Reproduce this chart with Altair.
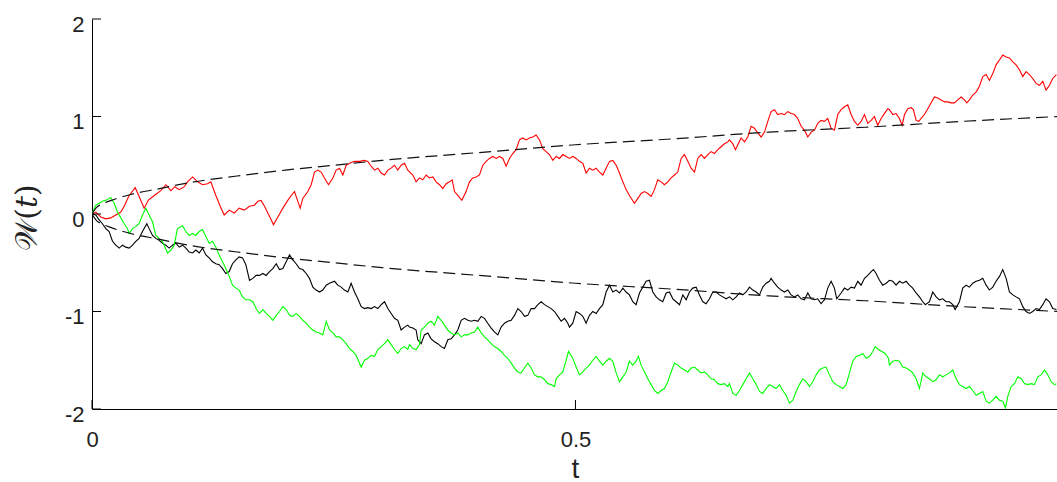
import altair as alt
import pandas as pd

# Three sample paths of a Wiener process W(t) on [0, 1], as (t, W) pairs
RED_PATH = [
    (0.0, 0.0), (0.0039, 0.02), (0.0091, -0.03), (0.0143, -0.05), (0.0194, -0.04), (0.0246, -0.01),
    (0.0298, 0.02), (0.0333, 0.08), (0.0384, 0.19), (0.0447, 0.27), (0.0487, 0.18), (0.0540, 0.06),
    (0.0581, 0.14), (0.0643, 0.19), (0.0712, 0.24), (0.0764, 0.30), (0.0816, 0.24), (0.0857, 0.28),
    (0.0902, 0.25), (0.0954, 0.28), (0.0988, 0.33), (0.1040, 0.38), (0.1092, 0.33), (0.1143, 0.30),
    (0.1195, 0.31), (0.1229, 0.33), (0.1281, 0.19), (0.1326, 0.08), (0.1367, -0.01), (0.1419, 0.04),
    (0.1471, 0.01), (0.1522, 0.06), (0.1574, 0.04), (0.1629, 0.08), (0.1680, 0.09), (0.1715, 0.13),
    (0.1749, 0.14), (0.1784, 0.08), (0.1818, 0.01), (0.1853, -0.06), (0.1877, -0.11), (0.1922, -0.03),
    (0.1974, 0.06), (0.2025, 0.14), (0.2060, 0.19), (0.2094, 0.23), (0.2129, 0.13), (0.2153, 0.06),
    (0.2180, 0.16), (0.2232, 0.23), (0.2267, 0.30), (0.2301, 0.43), (0.2335, 0.45), (0.2370, 0.43),
    (0.2404, 0.37), (0.2446, 0.30), (0.2491, 0.37), (0.2525, 0.45), (0.2560, 0.47), (0.2594, 0.40),
    (0.2629, 0.50), (0.2663, 0.52), (0.2715, 0.54), (0.2767, 0.54), (0.2818, 0.55), (0.2853, 0.54),
    (0.2887, 0.49), (0.2922, 0.45), (0.2956, 0.47), (0.2991, 0.42), (0.3025, 0.40), (0.3060, 0.45),
    (0.3094, 0.47), (0.3128, 0.50), (0.3163, 0.45), (0.3197, 0.50), (0.3232, 0.52), (0.3266, 0.45),
    (0.3318, 0.40), (0.3352, 0.33), (0.3387, 0.37), (0.3421, 0.35), (0.3456, 0.40), (0.3490, 0.37),
    (0.3525, 0.38), (0.3559, 0.33), (0.3594, 0.30), (0.3628, 0.26), (0.3663, 0.31), (0.3697, 0.33),
    (0.3725, 0.35), (0.3749, 0.23), (0.3783, 0.19), (0.3825, 0.14), (0.3869, 0.23), (0.3904, 0.33),
    (0.3938, 0.37), (0.3973, 0.38), (0.4007, 0.40), (0.4042, 0.50), (0.4076, 0.54), (0.4111, 0.57),
    (0.4145, 0.59), (0.4180, 0.57), (0.4214, 0.59), (0.4249, 0.57), (0.4283, 0.49), (0.4318, 0.57),
    (0.4352, 0.62), (0.4386, 0.66), (0.4421, 0.76), (0.4455, 0.78), (0.4490, 0.76), (0.4524, 0.78),
    (0.4559, 0.79), (0.4593, 0.81), (0.4628, 0.76), (0.4662, 0.67), (0.4697, 0.64), (0.4731, 0.61),
    (0.4766, 0.55), (0.4800, 0.59), (0.4835, 0.57), (0.4869, 0.61), (0.4904, 0.59), (0.4938, 0.57),
    (0.4972, 0.59), (0.5007, 0.57), (0.5041, 0.54), (0.5076, 0.52), (0.5110, 0.42), (0.5145, 0.47),
    (0.5179, 0.45), (0.5214, 0.47), (0.5248, 0.43), (0.5283, 0.40), (0.5317, 0.47), (0.5352, 0.54),
    (0.5386, 0.55), (0.5421, 0.50), (0.5455, 0.42), (0.5490, 0.33), (0.5524, 0.25), (0.5558, 0.19),
    (0.5610, 0.11), (0.5645, 0.16), (0.5679, 0.21), (0.5714, 0.23), (0.5748, 0.21), (0.5783, 0.18),
    (0.5817, 0.25), (0.5851, 0.35), (0.5886, 0.33), (0.5920, 0.30), (0.5955, 0.33), (0.5989, 0.37),
    (0.6024, 0.40), (0.6058, 0.43), (0.6093, 0.57), (0.6127, 0.61), (0.6162, 0.54), (0.6196, 0.47),
    (0.6231, 0.43), (0.6265, 0.57), (0.6300, 0.61), (0.6334, 0.57), (0.6368, 0.61), (0.6403, 0.64),
    (0.6437, 0.62), (0.6472, 0.66), (0.6506, 0.69), (0.6541, 0.72), (0.6575, 0.74), (0.6593, 0.76),
    (0.6627, 0.72), (0.6655, 0.66), (0.6679, 0.71), (0.6713, 0.78), (0.6748, 0.74), (0.6782, 0.79),
    (0.6817, 0.90), (0.6851, 0.88), (0.6886, 0.83), (0.6920, 0.79), (0.6955, 0.84), (0.6989, 0.95),
    (0.7023, 1.05), (0.7058, 1.07), (0.7092, 1.02), (0.7127, 1.03), (0.7161, 1.02), (0.7196, 1.05),
    (0.7230, 1.03), (0.7265, 1.02), (0.7299, 0.98), (0.7334, 0.90), (0.7368, 0.86), (0.7403, 0.79),
    (0.7437, 0.84), (0.7472, 0.86), (0.7506, 0.93), (0.7540, 0.96), (0.7575, 0.95), (0.7609, 0.98),
    (0.7644, 0.88), (0.7678, 0.86), (0.7713, 1.02), (0.7747, 1.07), (0.7782, 1.10), (0.7816, 1.12),
    (0.7851, 1.02), (0.7885, 0.95), (0.7920, 0.91), (0.7954, 0.95), (0.7989, 1.02), (0.8023, 0.93),
    (0.8058, 0.96), (0.8092, 1.00), (0.8126, 0.91), (0.8161, 0.98), (0.8195, 1.03), (0.8230, 1.08),
    (0.8247, 1.07), (0.8282, 1.02), (0.8316, 1.03), (0.8351, 0.98), (0.8378, 0.91), (0.8403, 1.02),
    (0.8437, 1.08), (0.8471, 1.09), (0.8495, 1.07), (0.8523, 0.96), (0.8551, 0.95), (0.8575, 0.98),
    (0.8609, 1.02), (0.8644, 1.08), (0.8678, 1.14), (0.8713, 1.20), (0.8747, 1.19), (0.8782, 1.17),
    (0.8816, 1.15), (0.8850, 1.15), (0.8885, 1.14), (0.8919, 1.14), (0.8954, 1.17), (0.8988, 1.20),
    (0.9023, 1.17), (0.9047, 1.14), (0.9074, 1.17), (0.9109, 1.22), (0.9143, 1.25), (0.9178, 1.31),
    (0.9212, 1.41), (0.9247, 1.43), (0.9281, 1.37), (0.9316, 1.44), (0.9350, 1.53), (0.9385, 1.58),
    (0.9419, 1.63), (0.9454, 1.61), (0.9488, 1.60), (0.9523, 1.56), (0.9557, 1.53), (0.9592, 1.48),
    (0.9626, 1.41), (0.9660, 1.46), (0.9695, 1.43), (0.9729, 1.39), (0.9764, 1.34), (0.9798, 1.32),
    (0.9833, 1.36), (0.9867, 1.27), (0.9902, 1.32), (0.9936, 1.39), (0.9974, 1.43),
]

BLACK_PATH = [
    (0.0, 0.0), (0.0039, -0.01), (0.0074, -0.06), (0.0108, -0.10), (0.0143, -0.15), (0.0177, -0.18),
    (0.0212, -0.28), (0.0246, -0.32), (0.0281, -0.35), (0.0315, -0.32), (0.0350, -0.34), (0.0384, -0.35),
    (0.0419, -0.32), (0.0453, -0.28), (0.0487, -0.25), (0.0522, -0.18), (0.0567, -0.10), (0.0591, -0.15),
    (0.0626, -0.22), (0.0660, -0.25), (0.0695, -0.27), (0.0729, -0.30), (0.0764, -0.32), (0.0798, -0.35),
    (0.0833, -0.32), (0.0867, -0.30), (0.0902, -0.34), (0.0936, -0.32), (0.0971, -0.35), (0.1005, -0.39),
    (0.1040, -0.40), (0.1074, -0.37), (0.1109, -0.40), (0.1143, -0.35), (0.1178, -0.42), (0.1212, -0.45),
    (0.1247, -0.49), (0.1281, -0.51), (0.1315, -0.52), (0.1350, -0.56), (0.1384, -0.61), (0.1419, -0.59),
    (0.1453, -0.51), (0.1488, -0.47), (0.1522, -0.44), (0.1557, -0.45), (0.1591, -0.52), (0.1629, -0.68),
    (0.1663, -0.66), (0.1698, -0.63), (0.1732, -0.63), (0.1767, -0.61), (0.1801, -0.63), (0.1836, -0.59),
    (0.1870, -0.56), (0.1905, -0.51), (0.1939, -0.57), (0.1974, -0.56), (0.2008, -0.49), (0.2043, -0.42),
    (0.2077, -0.47), (0.2111, -0.51), (0.2146, -0.56), (0.2180, -0.57), (0.2215, -0.61), (0.2249, -0.66),
    (0.2284, -0.75), (0.2318, -0.78), (0.2353, -0.80), (0.2387, -0.78), (0.2422, -0.73), (0.2456, -0.71),
    (0.2508, -0.69), (0.2542, -0.73), (0.2577, -0.75), (0.2611, -0.78), (0.2646, -0.80), (0.2680, -0.71),
    (0.2715, -0.80), (0.2749, -0.87), (0.2784, -0.95), (0.2818, -0.97), (0.2853, -0.96), (0.2887, -0.97),
    (0.2922, -0.95), (0.2956, -0.97), (0.2991, -0.93), (0.3025, -0.90), (0.3060, -0.97), (0.3094, -1.02),
    (0.3128, -1.07), (0.3163, -1.09), (0.3197, -1.19), (0.3232, -1.16), (0.3266, -1.14), (0.3283, -1.16),
    (0.3318, -1.17), (0.3352, -1.19), (0.3369, -1.29), (0.3404, -1.33), (0.3438, -1.24), (0.3473, -1.22),
    (0.3507, -1.28), (0.3542, -1.31), (0.3576, -1.33), (0.3611, -1.36), (0.3645, -1.38), (0.3680, -1.29),
    (0.3714, -1.28), (0.3749, -1.24), (0.3783, -1.19), (0.3818, -1.09), (0.3852, -1.07), (0.3887, -1.09),
    (0.3921, -1.10), (0.3956, -1.09), (0.3990, -1.10), (0.4025, -1.05), (0.4059, -1.07), (0.4093, -1.12),
    (0.4128, -1.17), (0.4162, -1.21), (0.4197, -1.24), (0.4231, -1.16), (0.4266, -1.12), (0.4300, -1.10),
    (0.4335, -1.09), (0.4369, -1.04), (0.4404, -0.97), (0.4438, -1.00), (0.4473, -1.05), (0.4507, -1.04),
    (0.4542, -0.97), (0.4576, -0.97), (0.4611, -0.93), (0.4645, -0.90), (0.4680, -0.93), (0.4714, -0.95),
    (0.4749, -0.97), (0.4783, -1.00), (0.4818, -1.05), (0.4852, -1.10), (0.4887, -1.07), (0.4921, -1.12),
    (0.4938, -1.16), (0.4972, -1.12), (0.5007, -1.00), (0.5041, -1.02), (0.5076, -1.05), (0.5110, -1.12),
    (0.5145, -1.04), (0.5179, -1.00), (0.5214, -1.02), (0.5248, -0.97), (0.5283, -0.93), (0.5317, -0.80),
    (0.5352, -0.73), (0.5386, -0.80), (0.5421, -0.78), (0.5455, -0.81), (0.5490, -0.76), (0.5524, -0.80),
    (0.5558, -0.83), (0.5593, -0.90), (0.5627, -0.93), (0.5662, -0.81), (0.5696, -0.75), (0.5731, -0.69),
    (0.5765, -0.68), (0.5800, -0.80), (0.5834, -0.85), (0.5869, -0.88), (0.5903, -0.90), (0.5938, -0.81),
    (0.5972, -0.80), (0.6007, -0.87), (0.6041, -0.90), (0.6076, -0.93), (0.6110, -0.83), (0.6145, -0.88),
    (0.6179, -0.80), (0.6213, -0.76), (0.6248, -0.75), (0.6282, -0.83), (0.6317, -0.90), (0.6351, -0.92),
    (0.6386, -0.87), (0.6420, -0.80), (0.6455, -0.80), (0.6489, -0.83), (0.6524, -0.85), (0.6558, -0.87),
    (0.6593, -0.85), (0.6627, -0.88), (0.6662, -0.85), (0.6696, -0.81), (0.6731, -0.83), (0.6765, -0.80),
    (0.6800, -0.75), (0.6834, -0.78), (0.6869, -0.80), (0.6903, -0.83), (0.6937, -0.75), (0.6972, -0.71),
    (0.7006, -0.69), (0.7023, -0.66), (0.7058, -0.71), (0.7092, -0.75), (0.7127, -0.78), (0.7161, -0.80),
    (0.7196, -0.78), (0.7230, -0.83), (0.7265, -0.85), (0.7299, -0.83), (0.7334, -0.87), (0.7368, -0.88),
    (0.7403, -0.81), (0.7437, -0.87), (0.7472, -0.88), (0.7506, -0.87), (0.7540, -0.92), (0.7575, -0.88),
    (0.7609, -0.76), (0.7644, -0.69), (0.7678, -0.76), (0.7702, -0.87), (0.7747, -0.81), (0.7782, -0.76),
    (0.7816, -0.78), (0.7851, -0.75), (0.7885, -0.76), (0.7920, -0.69), (0.7954, -0.73), (0.7989, -0.66),
    (0.8023, -0.63), (0.8058, -0.59), (0.8082, -0.57), (0.8109, -0.61), (0.8144, -0.68), (0.8178, -0.73),
    (0.8213, -0.71), (0.8247, -0.68), (0.8282, -0.69), (0.8316, -0.73), (0.8351, -0.69), (0.8385, -0.71),
    (0.8420, -0.69), (0.8454, -0.73), (0.8488, -0.76), (0.8523, -0.81), (0.8557, -0.85), (0.8592, -0.90),
    (0.8619, -0.93), (0.8661, -0.90), (0.8695, -0.80), (0.8730, -0.85), (0.8764, -0.88), (0.8799, -0.87),
    (0.8833, -0.90), (0.8868, -0.90), (0.8902, -0.93), (0.8926, -0.98), (0.8971, -0.90), (0.9005, -0.76),
    (0.9040, -0.73), (0.9074, -0.75), (0.9109, -0.71), (0.9143, -0.69), (0.9178, -0.68), (0.9212, -0.66),
    (0.9247, -0.73), (0.9281, -0.78), (0.9316, -0.75), (0.9350, -0.69), (0.9385, -0.64), (0.9419, -0.57),
    (0.9454, -0.66), (0.9488, -0.80), (0.9523, -0.83), (0.9557, -0.85), (0.9592, -0.87), (0.9626, -0.95),
    (0.9660, -1.00), (0.9695, -1.02), (0.9729, -1.00), (0.9764, -0.97), (0.9798, -0.98), (0.9833, -0.93),
    (0.9867, -0.87), (0.9902, -0.90), (0.9936, -0.97), (0.9974, -0.98),
]

GREEN_PATH = [
    (0.0, 0.0), (0.0039, 0.09), (0.0074, 0.11), (0.0108, 0.13), (0.0143, 0.14), (0.0194, 0.17),
    (0.0229, 0.11), (0.0263, 0.02), (0.0298, -0.04), (0.0333, -0.10), (0.0367, -0.15), (0.0384, -0.20),
    (0.0419, -0.15), (0.0453, -0.13), (0.0487, -0.10), (0.0522, -0.01), (0.0557, 0.06), (0.0591, -0.01),
    (0.0626, -0.08), (0.0660, -0.22), (0.0695, -0.25), (0.0729, -0.28), (0.0781, -0.40), (0.0816, -0.37),
    (0.0850, -0.32), (0.0884, -0.15), (0.0936, -0.12), (0.0971, -0.18), (0.1005, -0.22), (0.1040, -0.20),
    (0.1074, -0.22), (0.1109, -0.18), (0.1143, -0.16), (0.1178, -0.23), (0.1212, -0.30), (0.1247, -0.28),
    (0.1281, -0.34), (0.1315, -0.42), (0.1350, -0.49), (0.1384, -0.56), (0.1419, -0.64), (0.1453, -0.73),
    (0.1488, -0.76), (0.1522, -0.78), (0.1557, -0.85), (0.1591, -0.88), (0.1629, -0.88), (0.1663, -0.90),
    (0.1698, -0.97), (0.1732, -1.02), (0.1767, -0.98), (0.1801, -1.02), (0.1836, -1.05), (0.1870, -1.09),
    (0.1905, -1.04), (0.1939, -1.00), (0.1974, -0.95), (0.2008, -0.98), (0.2043, -1.04), (0.2077, -1.05),
    (0.2111, -1.02), (0.2146, -1.05), (0.2180, -1.09), (0.2215, -1.12), (0.2249, -1.16), (0.2284, -1.19),
    (0.2318, -1.21), (0.2353, -1.22), (0.2387, -1.24), (0.2422, -1.10), (0.2456, -1.19), (0.2491, -1.22),
    (0.2525, -1.26), (0.2560, -1.26), (0.2594, -1.29), (0.2629, -1.33), (0.2663, -1.38), (0.2698, -1.41),
    (0.2732, -1.45), (0.2767, -1.53), (0.2784, -1.57), (0.2818, -1.50), (0.2853, -1.48), (0.2887, -1.45),
    (0.2922, -1.46), (0.2956, -1.39), (0.2991, -1.36), (0.3025, -1.33), (0.3060, -1.29), (0.3094, -1.34),
    (0.3128, -1.39), (0.3163, -1.43), (0.3197, -1.38), (0.3232, -1.36), (0.3266, -1.39), (0.3283, -1.34),
    (0.3318, -1.38), (0.3352, -1.39), (0.3387, -1.34), (0.3404, -1.19), (0.3438, -1.16), (0.3473, -1.12),
    (0.3507, -1.10), (0.3542, -1.14), (0.3576, -1.05), (0.3611, -1.09), (0.3645, -1.14), (0.3680, -1.19),
    (0.3714, -1.22), (0.3749, -1.24), (0.3783, -1.22), (0.3818, -1.26), (0.3852, -1.24), (0.3887, -1.24),
    (0.3921, -1.22), (0.3956, -1.21), (0.3990, -1.16), (0.4025, -1.22), (0.4059, -1.26), (0.4093, -1.29),
    (0.4128, -1.33), (0.4162, -1.36), (0.4197, -1.38), (0.4231, -1.41), (0.4266, -1.45), (0.4300, -1.48),
    (0.4335, -1.53), (0.4369, -1.58), (0.4404, -1.62), (0.4438, -1.63), (0.4473, -1.58), (0.4507, -1.53),
    (0.4542, -1.58), (0.4576, -1.65), (0.4611, -1.67), (0.4645, -1.67), (0.4680, -1.70), (0.4714, -1.74),
    (0.4749, -1.75), (0.4783, -1.77), (0.4800, -1.69), (0.4835, -1.65), (0.4869, -1.62), (0.4904, -1.50),
    (0.4928, -1.41), (0.4972, -1.48), (0.5007, -1.57), (0.5041, -1.65), (0.5076, -1.62), (0.5110, -1.58),
    (0.5145, -1.55), (0.5179, -1.50), (0.5214, -1.46), (0.5248, -1.51), (0.5283, -1.55), (0.5317, -1.51),
    (0.5352, -1.48), (0.5386, -1.51), (0.5421, -1.63), (0.5455, -1.72), (0.5490, -1.67), (0.5524, -1.62),
    (0.5558, -1.51), (0.5593, -1.55), (0.5627, -1.51), (0.5651, -1.46), (0.5679, -1.55), (0.5714, -1.62),
    (0.5748, -1.69), (0.5783, -1.75), (0.5817, -1.81), (0.5851, -1.84), (0.5886, -1.81), (0.5920, -1.79),
    (0.5955, -1.72), (0.5989, -1.62), (0.6024, -1.53), (0.6058, -1.55), (0.6093, -1.58), (0.6127, -1.60),
    (0.6162, -1.62), (0.6196, -1.58), (0.6231, -1.57), (0.6265, -1.60), (0.6300, -1.63), (0.6334, -1.62),
    (0.6368, -1.65), (0.6403, -1.69), (0.6437, -1.70), (0.6472, -1.74), (0.6506, -1.75), (0.6541, -1.74),
    (0.6575, -1.77), (0.6593, -1.74), (0.6627, -1.84), (0.6662, -1.86), (0.6696, -1.81), (0.6731, -1.75),
    (0.6765, -1.69), (0.6800, -1.63), (0.6834, -1.69), (0.6869, -1.75), (0.6903, -1.82), (0.6937, -1.84),
    (0.6972, -1.79), (0.7006, -1.75), (0.7041, -1.77), (0.7075, -1.79), (0.7110, -1.75), (0.7144, -1.81),
    (0.7179, -1.86), (0.7213, -1.94), (0.7248, -1.91), (0.7282, -1.82), (0.7316, -1.75), (0.7351, -1.69),
    (0.7385, -1.72), (0.7420, -1.77), (0.7454, -1.72), (0.7489, -1.65), (0.7523, -1.60), (0.7558, -1.58),
    (0.7592, -1.57), (0.7627, -1.65), (0.7661, -1.72), (0.7696, -1.75), (0.7730, -1.77), (0.7765, -1.79),
    (0.7799, -1.75), (0.7834, -1.63), (0.7868, -1.51), (0.7903, -1.46), (0.7937, -1.45), (0.7972, -1.43),
    (0.8006, -1.48), (0.8041, -1.46), (0.8075, -1.41), (0.8099, -1.36), (0.8134, -1.39), (0.8168, -1.41),
    (0.8203, -1.43), (0.8237, -1.48), (0.8247, -1.55), (0.8282, -1.51), (0.8316, -1.50), (0.8351, -1.51),
    (0.8385, -1.57), (0.8420, -1.58), (0.8454, -1.60), (0.8488, -1.63), (0.8523, -1.69), (0.8557, -1.79),
    (0.8592, -1.63), (0.8626, -1.67), (0.8661, -1.69), (0.8695, -1.72), (0.8730, -1.70), (0.8764, -1.65),
    (0.8799, -1.67), (0.8833, -1.65), (0.8868, -1.63), (0.8902, -1.60), (0.8937, -1.69), (0.8971, -1.75),
    (0.9005, -1.77), (0.9040, -1.79), (0.9074, -1.77), (0.9109, -1.81), (0.9143, -1.86), (0.9178, -1.84),
    (0.9212, -1.82), (0.9247, -1.92), (0.9281, -1.94), (0.9316, -1.91), (0.9350, -1.87), (0.9385, -1.91),
    (0.9419, -1.92), (0.9447, -1.99), (0.9471, -1.87), (0.9506, -1.77), (0.9540, -1.74), (0.9575, -1.67),
    (0.9609, -1.69), (0.9643, -1.74), (0.9678, -1.75), (0.9712, -1.74), (0.9747, -1.75), (0.9781, -1.67),
    (0.9816, -1.65), (0.9850, -1.60), (0.9885, -1.65), (0.9919, -1.72), (0.9954, -1.75), (0.9974, -1.74),
]

# Dashed envelope curves (one standard deviation above and below zero)
ENVELOPE_T = [0.0, 0.005, 0.01, 0.02, 0.04, 0.07, 0.1, 0.15, 0.2, 0.25, 0.3, 0.4, 0.5, 0.6, 0.7, 0.8, 0.9, 1.0]
ENVELOPE_UPPER = [0.0, 0.07, 0.10, 0.14, 0.20, 0.26, 0.32, 0.39, 0.45, 0.50, 0.55, 0.63, 0.71, 0.77, 0.84, 0.89, 0.95, 1.0]
ENVELOPE_LOWER = [0.0, -0.07, -0.10, -0.14, -0.20, -0.26, -0.32, -0.39, -0.45, -0.50, -0.55, -0.63, -0.71, -0.77, -0.84, -0.89, -0.95, -1.0]

X_TICKS = [0, 0.5]
Y_TICKS = [-2, -1, 0, 1, 2]

PLOT_W, PLOT_H = 965, 390
FONT = "Liberation Sans"

x_scale = alt.Scale(domain=[0, 0.998], nice=False, zero=False)
y_scale = alt.Scale(domain=[-2, 2], nice=False, zero=False)

x_axis = alt.Axis(
    values=X_TICKS, title="t", grid=False, ticks=False, tickSize=0,
    labelPadding=20, labelFlush=False, labelOverlap=False,
    labelExpr="datum.value == 0 ? '0' : format(datum.value, '.1f')",
    titleX=483, titleY=68, titleBaseline="alphabetic", titleAlign="center",
    titleFontSize=28,
)
y_axis = alt.Axis(
    values=Y_TICKS, title="𝒲(𝑡)", grid=False, ticks=False, tickSize=0,
    labelPadding=8, labelOffset=5, labelOverlap=False, labelFlush=False,
    labelExpr="datum.value < 0 ? '-' + abs(datum.value) : '' + datum.value",
    titleAngle=270, titleX=-65, titleY=198, titleAlign="center", titleBaseline="middle",
    titleFont="DejaVu Serif", titleFontSize=30,
)


def path_frame(points):
    return pd.DataFrame(points, columns=["t", "w"])


def path_layer(points, colour):
    return alt.Chart(path_frame(points)).mark_line(
        color=colour, strokeWidth=1.1, clip=True
    ).encode(
        x=alt.X("t:Q", scale=x_scale, axis=x_axis),
        y=alt.Y("w:Q", scale=y_scale, axis=y_axis),
    )


env_df = pd.DataFrame({
    "t": ENVELOPE_T * 2,
    "w": ENVELOPE_UPPER + ENVELOPE_LOWER,
    "side": ["upper"] * len(ENVELOPE_T) + ["lower"] * len(ENVELOPE_T),
})
envelope = alt.Chart(env_df).mark_line(
    color="#111111", strokeWidth=1.2, strokeDash=[12, 6], interpolate="monotone", clip=True
).encode(
    x=alt.X("t:Q", scale=x_scale, axis=x_axis),
    y=alt.Y("w:Q", scale=y_scale, axis=y_axis),
    detail="side:N",
)

# Inward-pointing tick marks on both axes
y_ticks = alt.Chart(pd.DataFrame({"v": Y_TICKS})).mark_rule(color="black", strokeWidth=1).encode(
    y=alt.Y("v:Q", scale=y_scale, axis=y_axis),
    x=alt.value(0), x2=alt.value(9),
)
x_ticks = alt.Chart(pd.DataFrame({"v": X_TICKS})).mark_rule(color="black", strokeWidth=1).encode(
    x=alt.X("v:Q", scale=x_scale, axis=x_axis),
    y=alt.value(PLOT_H), y2=alt.value(PLOT_H - 9),
)

chart = alt.layer(
    path_layer(RED_PATH, "#ff0000"),
    path_layer(BLACK_PATH, "#000000"),
    path_layer(GREEN_PATH, "#00ff00"),
    envelope,
    y_ticks,
    x_ticks,
).properties(
    width=PLOT_W,
    height=PLOT_H,
    background="white",
    padding={"left": 92, "top": 19, "right": 0, "bottom": 73},
    autosize=alt.AutoSizeParams(type="none"),
).configure_view(
    stroke=None,
).configure_axis(
    domainColor="black",
    domainWidth=1,
    labelFont=FONT,
    labelFontSize=22,
    labelColor="#222222",
    titleFont=FONT,
    titleFontSize=30,
    titleFontWeight="normal",
    titleColor="#222222",
)

chart.save("out.html", embed_options={"renderer": "svg", "actions": False})
